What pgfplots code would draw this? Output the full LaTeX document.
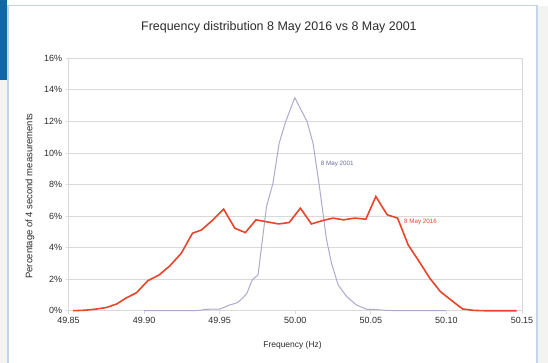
\documentclass[border=0pt]{standalone}
\usepackage{fontspec}
\setmainfont{Liberation Sans}
\usepackage{pgfplots}
\pgfplotsset{compat=1.18}
\definecolor{redline}{HTML}{E8452C}
\definecolor{blueline}{HTML}{ADAACF}
\definecolor{bluetext}{HTML}{6F6CA8}
\definecolor{gridc}{HTML}{D9D9D9}
\definecolor{txt}{HTML}{2B2B2B}
\definecolor{bgc}{HTML}{F3F3F1}
\definecolor{boxc}{HTML}{C4D5E6}
\definecolor{barc}{HTML}{0F68A3}
\begin{document}
\begin{tikzpicture}
\useasboundingbox (0,0) rectangle (548bp,363bp);
\fill[bgc] (0,0) rectangle (548bp,363bp);
\fill[white] (0,357bp) rectangle (548bp,363bp);
\filldraw[fill=white,draw=boxc,line width=1.2bp] (8bp,-2bp) rectangle (537bp,357.5bp);
\fill[barc] (0,283bp) rectangle (7bp,363bp);
\begin{axis}[
  at={(68.5bp,52.3bp)}, anchor=south west,
  scale only axis, width=453.5bp, height=252.4bp,
  xmin=49.85, xmax=50.15, ymin=0, ymax=16,
  xtick={49.85,49.90,...,50.16},
  ytick={0,2,...,16},
  yticklabel={\pgfmathprintnumber{\tick}\%},
  /pgf/number format/assume math mode=true,
  x tick label style={/pgf/number format/.cd, fixed, fixed zerofill, precision=2},
  ticklabel style={font=\fontsize{9}{10}\selectfont, text=txt},
  tick align=outside, major tick length=3bp,
  tick style={gridc, line width=0.8bp},
  ymajorgrids, grid style={gridc, line width=0.8bp},
  axis line style={gridc, line width=0.8bp},
  xtick pos=bottom, ytick pos=left,
  title={Frequency distribution 8 May 2016 vs 8 May 2001},
  title style={at={(rel axis cs:0.464,1.10)}, anchor=center, font=\fontsize{12.5}{14}\selectfont, text=txt},
  xlabel={Frequency (Hz)},
  xlabel style={at={(rel axis cs:0.494,-0.136)}, anchor=center, font=\fontsize{8.5}{10}\selectfont, text=txt},
  ylabel={Percentage of 4 second measurements},
  ylabel style={at={(rel axis cs:-0.085,0.454)}, anchor=center, rotate=0, font=\fontsize{9.5}{11}\selectfont, text=txt},
  clip=false,
]
\addplot[blueline, line width=1bp] coordinates {
(49.900,0) (49.910,0) (49.920,0) (49.930,0) (49.937,0.02) (49.940,0.08)
(49.945,0.1) (49.950,0.1) (49.9566,0.36) (49.9615,0.5) (49.9644,0.72)
(49.968,1.1) (49.9715,1.95) (49.9754,2.27) (49.978,4.3) (49.981,6.6)
(49.9853,8.1) (49.9893,10.6) (49.9937,12.0) (49.9997,13.5) (50.0078,12.0)
(50.0118,10.6) (50.0158,8.0) (50.0207,4.5) (50.024,3.0) (50.0284,1.63)
(50.034,0.9) (50.0405,0.36) (50.0472,0.09) (50.052,0.08) (50.056,0.05)
(50.060,0.02) (50.070,0) (50.080,0) (50.090,0) (50.0997,0)
};
\addplot[redline, line width=1.6bp] coordinates {
(49.853,0) (49.861,0.03) (49.868,0.1) (49.875,0.2) (49.882,0.43) (49.888,0.8)
(49.895,1.14) (49.9025,1.9) (49.910,2.27) (49.917,2.84) (49.9246,3.64)
(49.932,4.91) (49.938,5.12) (49.9456,5.76) (49.9526,6.44) (49.960,5.23)
(49.967,4.95) (49.974,5.76) (49.982,5.62) (49.989,5.5) (49.996,5.59)
(50.0034,6.5) (50.0107,5.5) (50.018,5.71) (50.025,5.87) (50.032,5.76)
(50.0394,5.87) (50.0467,5.8) (50.0533,7.24) (50.0608,6.08) (50.0677,5.87)
(50.0747,4.17) (50.082,3.11) (50.089,2.06) (50.096,1.21) (50.1035,0.64)
(50.1107,0.11) (50.118,0.02) (50.125,0) (50.132,0) (50.139,0) (50.1465,0)
};
\node[anchor=west, inner sep=0pt, text=bluetext, font=\fontsize{6.3}{7}\selectfont] at (axis cs:50.0168,9.3) {8 May 2001};
\node[anchor=west, inner sep=0pt, text=redline, font=\fontsize{6.3}{7}\selectfont] at (axis cs:50.0719,5.62) {8 May 2016};
\end{axis}
\end{tikzpicture}
\end{document}
